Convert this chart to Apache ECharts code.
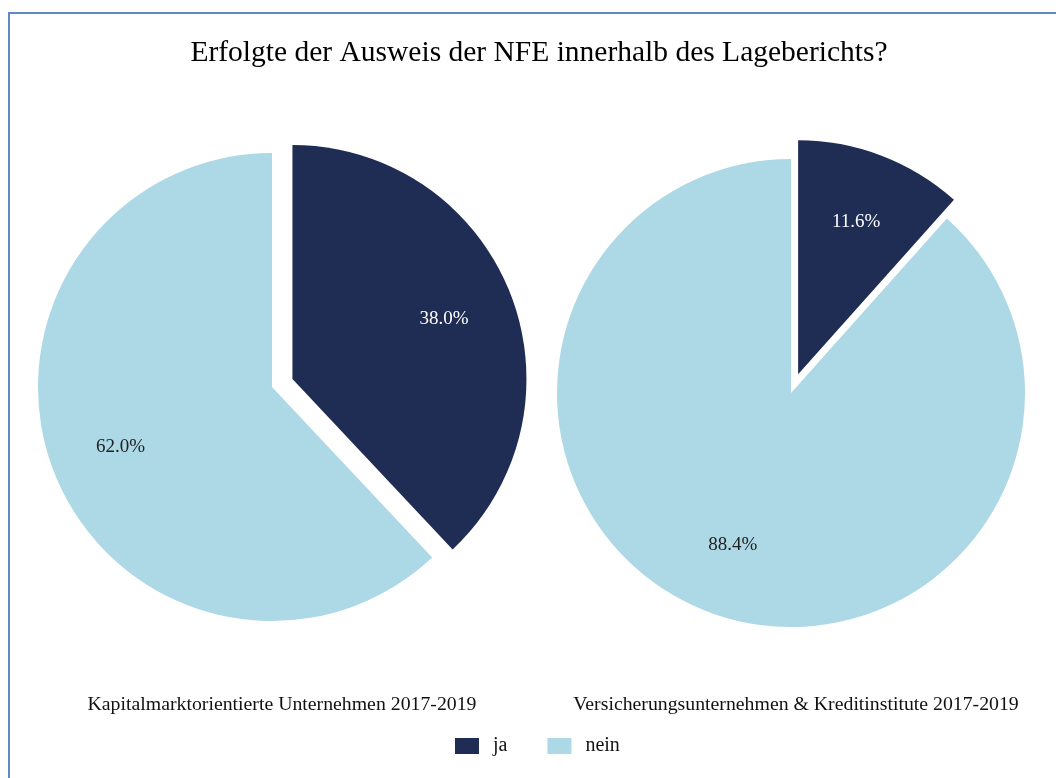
<!DOCTYPE html>
<html>
<head>
    <meta charset="utf-8">
    <title>NFE Lagebericht</title>
    <script src="https://cdn.jsdelivr.net/npm/echarts@6/dist/echarts.min.js"></script>
    <style>
        body { margin: 0; background: #fff; }
    </style>
</head>
<body>
<div id="main" style="width: 1056px;height:778px;"></div>
<script type="text/javascript">
    // Daten
    var categories = ['ja', 'nein'];
    var groups = ['Kapitalmarktorientierte Unternehmen 2017-2019', 'Versicherungsunternehmen & Kreditinstitute 2017-2019'];
    var valuesKapital = [38.0, 62.0];
    var valuesVersicherung = [11.6, 88.4];
    var colors = ['#1f2d55', '#add8e6'];

    var font = '"Liberation Serif", "Times New Roman", serif';
    var myChart = echarts.init(document.getElementById('main'));

    function toData(vals) {
        return vals.map(function (v, i) {
            return { name: categories[i], value: v, selected: i === 0 };
        });
    }

    // sichtbare Torte (ohne Beschriftung)
    function pieSeries(vals, center, offset) {
        return {
            type: 'pie',
            center: center,
            radius: 234,
            startAngle: 90,
            selectedMode: 'multiple',
            selectedOffset: offset,
            silent: true,
            animation: false,
            label: { show: false },
            labelLine: { show: false },
            emphasis: { disabled: true },
            data: toData(vals)
        };
    }

    // unsichtbarer Ring nur fuer die Prozentwerte (Label bei ca. 0.68 r)
    function labelSeries(vals, center, offset) {
        return {
            type: 'pie',
            center: center,
            radius: [86, 234],
            startAngle: 90,
            selectedMode: 'multiple',
            selectedOffset: offset,
            silent: true,
            animation: false,
            itemStyle: { color: 'rgba(0,0,0,0)' },
            legendHoverLink: false,
            label: {
                show: true,
                position: 'inside',
                fontFamily: font,
                fontSize: 19,
                formatter: function (p) { return p.value.toFixed(1) + '%'; },
                color: '#222'
            },
            labelLine: { show: false },
            emphasis: { disabled: true },
            data: toData(vals).map(function (d, i) {
                d.label = { color: i === 0 ? '#fff' : '#222' };
                return d;
            })
        };
    }

    var option = {
        color: colors,
        animation: false,
        title: [{
            text: 'Erfolgte der Ausweis der NFE innerhalb des Lageberichts?',
            left: 534, top: 33, textAlign: 'center',
            textStyle: { fontFamily: font, fontSize: 29.5, fontWeight: 'normal', color: '#000' }
        }, {
            text: groups[0],
            left: 277, top: 690, textAlign: 'center',
            textStyle: { fontFamily: font, fontSize: 19.8, fontWeight: 'normal', color: '#111' }
        }, {
            text: groups[1],
            left: 791, top: 690, textAlign: 'center',
            textStyle: { fontFamily: font, fontSize: 19.8, fontWeight: 'normal', color: '#111' }
        }],
        legend: {
            data: categories,
            icon: 'rect',
            left: 450, top: 731,
            itemWidth: 24, itemHeight: 16, itemGap: 40,
            selectedMode: false,
            textStyle: { fontFamily: font, fontSize: 20, color: '#111', padding: [0, 0, 0, 9] }
        },
        graphic: [{
            type: 'rect',
            shape: { x: 9, y: 13, width: 1060, height: 780 },
            style: { fill: 'none', stroke: '#5f88c6', lineWidth: 2 },
            silent: true
        }],
        series: [
            pieSeries(valuesKapital, [272, 387], 22),
            pieSeries(valuesVersicherung, [791, 393], 20),
            labelSeries(valuesKapital, [272, 387], 22),
            labelSeries(valuesVersicherung, [791, 393], 20)
        ]
    };

    myChart.setOption(option);
</script>
</body>
</html>
